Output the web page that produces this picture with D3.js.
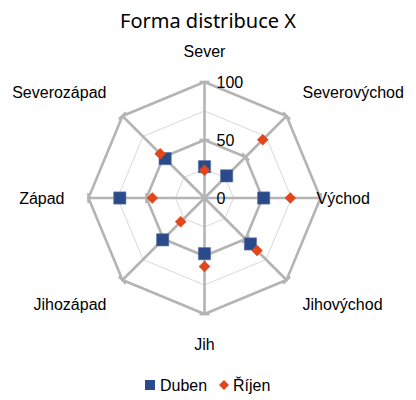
<!DOCTYPE html>
<html>
<head>
<meta charset="utf-8">
<script src="https://cdn.jsdelivr.net/npm/d3@7"></script>
<style>
body { margin: 0; background: #fff; }
</style>
</head>
<body>
<div id="chart"></div>
<script>
var axesNames = ["Sever", "Severovýchod", "Východ", "Jihovýchod", "Jih", "Jihozápad", "Západ", "Severozápad"];
var duben = [27, 27, 51, 56, 48, 51, 73, 48];
var rijen = [24, 71, 74, 64, 59, 29, 45, 54];
var seriesNames = ["Duben", "Říjen"];
var tickValues = [0, 50, 100];

var W = 416, H = 400;
var CX = 204.5, CY = 198, R = 116;
var BLUE = "#2a4a8a", ORANGE = "#e2461b";
// label placement relative to the outer vertex: [dx, dy, anchor]
var labelPos = [[0, -31, "middle"], [16, -24, "start"], [-4, 0, "start"], [16, 24, "start"],
                [0, 30, "middle"], [-16, 24, "end"], [-24, 0, "end"], [-16, -24, "end"]];

var svg = d3.select("#chart").append("svg")
    .attr("width", W).attr("height", H);

var r = d3.scaleLinear().domain([0, 100]).range([0, R]);
var angle = d3.scalePoint().domain(axesNames)
    .range([0, 2 * Math.PI * (axesNames.length - 1) / axesNames.length]);

function px(name, v) { return CX + r(v) * Math.sin(angle(name)); }
function py(name, v) { return CY - r(v) * Math.cos(angle(name)); }

svg.append("text")
    .attr("x", W / 2).attr("y", 28)
    .attr("text-anchor", "middle")
    .style("font-family", "'Noto Sans', 'Open Sans', sans-serif")
    .style("font-size", "20px")
    .attr("fill", "#000")
    .text("Forma distribuce X");

// grid rings
var rings = [25, 50, 75, 100];
rings.forEach(function (v) {
    var pts = axesNames.map(function (n) { return [px(n, v), py(n, v)]; });
    var major = v % 50 === 0;
    svg.append("polygon")
        .attr("points", pts.map(function (p) { return p.join(","); }).join(" "))
        .attr("fill", "none")
        .attr("stroke", major ? "#b4b4b4" : "#d9d9d9")
        .attr("stroke-width", major ? 2.6 : 1)
        .attr("stroke-linejoin", "round");
});

// spokes
axesNames.forEach(function (n) {
    svg.append("line")
        .attr("x1", CX).attr("y1", CY)
        .attr("x2", px(n, 100)).attr("y2", py(n, 100))
        .attr("stroke", "#b4b4b4").attr("stroke-width", 2.6);
    [50, 100].forEach(function (v) {
        var a = angle(n);
        var ux = Math.cos(a), uy = Math.sin(a);
        svg.append("line")
            .attr("x1", px(n, v) - ux * 5).attr("y1", py(n, v) - uy * 5)
            .attr("x2", px(n, v) + ux * 5).attr("y2", py(n, v) + uy * 5)
            .attr("stroke", "#b4b4b4").attr("stroke-width", 2.6);
    });
});

// tick labels
svg.selectAll(".tick").data(tickValues).enter().append("text")
    .attr("x", CX + 12)
    .attr("y", function (d) { return CY - r(d); })
    .attr("dy", "0.36em")
    .style("font-family", "'Liberation Sans', Arial, sans-serif")
    .style("font-size", "16px")
    .text(function (d) { return d; });

// axis labels
axesNames.forEach(function (n, i) {
    var o = labelPos[i];
    svg.append("text")
        .attr("x", px(n, 100) + o[0])
        .attr("y", py(n, 100) + o[1])
        .attr("dy", "0.36em")
        .attr("text-anchor", o[2])
        .style("font-family", "'Liberation Sans', Arial, sans-serif")
        .style("font-size", "16px")
        .text(n);
});

var square = d3.symbol().type(d3.symbolSquare).size(150);
var diamond = d3.symbol().type(d3.symbolSquare).size(66);

// Duben
svg.selectAll(".duben").data(duben).enter().append("path")
    .attr("d", square)
    .attr("transform", function (d, i) { return "translate(" + px(axesNames[i], d) + "," + py(axesNames[i], d) + ")"; })
    .attr("fill", BLUE).attr("stroke", "#5a74a8").attr("stroke-width", 0.6);

// Říjen
svg.selectAll(".rijen").data(rijen).enter().append("path")
    .attr("d", diamond)
    .attr("transform", function (d, i) { return "translate(" + px(axesNames[i], d) + "," + py(axesNames[i], d) + ") rotate(45)"; })
    .attr("fill", ORANGE);

// legend
var lg = svg.append("g");
lg.append("path").attr("d", d3.symbol().type(d3.symbolSquare).size(100))
    .attr("transform", "translate(150,385)").attr("fill", BLUE);
lg.append("text").attr("x", 160).attr("y", 385).attr("dy", "0.36em")
    .style("font-family", "'Liberation Sans', Arial, sans-serif").style("font-size", "16px")
    .text(seriesNames[0]);
lg.append("path").attr("d", d3.symbol().type(d3.symbolSquare).size(50))
    .attr("transform", "translate(224,385) rotate(45)").attr("fill", ORANGE);
lg.append("text").attr("x", 233).attr("y", 385).attr("dy", "0.36em")
    .style("font-family", "'Liberation Sans', Arial, sans-serif").style("font-size", "16px")
    .text(seriesNames[1]);
</script>
</body>
</html>
